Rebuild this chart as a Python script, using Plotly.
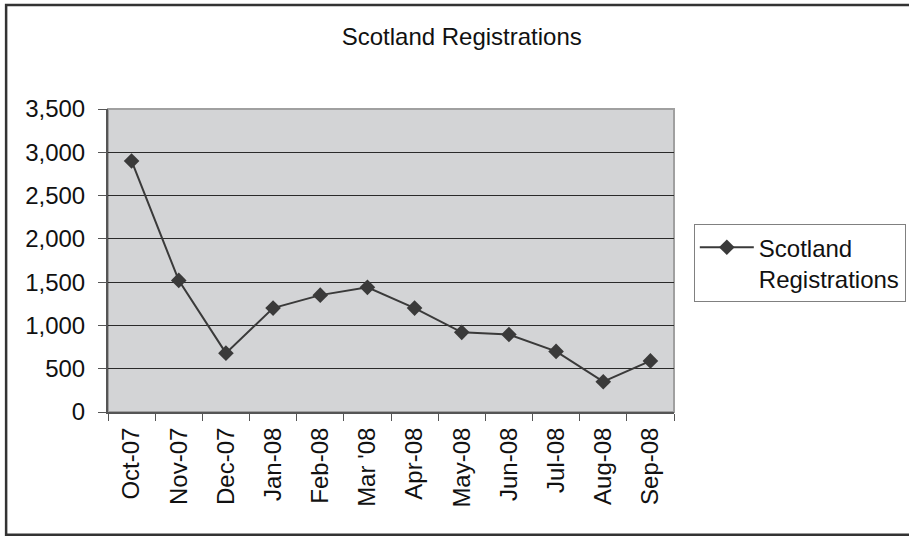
import plotly.graph_objects as go

# Monthly registrations, Scotland, Oct 2007 – Sep 2008
months = ["Oct-07", "Nov-07", "Dec-07", "Jan-08", "Feb-08", "Mar '08",
          "Apr-08", "May-08", "Jun-08", "Jul-08", "Aug-08", "Sep-08"]
registrations = [2900, 1520, 680, 1200, 1350, 1440, 1200, 920, 895, 700, 350, 590]
y_ticks = [0, 500, 1000, 1500, 2000, 2500, 3000, 3500]
y_tick_text = ["0", "500", "1,000", "1,500", "2,000", "2,500", "3,000", "3,500"]

FONT = "Liberation Sans, Arial, sans-serif"
MARK = "#3a3a3a"

fig = go.Figure()
fig.add_trace(go.Scatter(
    x=months,
    y=registrations,
    mode="lines+markers",
    name="Scotland<br>Registrations",
    line=dict(color=MARK, width=2),
    marker=dict(symbol="diamond", size=12, color=MARK),
))

fig.update_layout(
    width=909,
    height=536,
    margin=dict(l=108, r=235, t=109, b=124, autoexpand=False),
    paper_bgcolor="white",
    plot_bgcolor="#d3d4d6",
    font=dict(family=FONT, color="#111111", size=24),
    title=dict(
        text="Scotland Registrations",
        x=0.508, xref="container", xanchor="center",
        y=0.931, yref="container", yanchor="middle",
        font=dict(family=FONT, size=24, color="#111111"),
    ),
    showlegend=True,
    legend=dict(
        x=1.035, xanchor="left",
        y=0.62, yanchor="top",
        bordercolor="#808080", borderwidth=1,
        bgcolor="white",
        itemwidth=54,
        font=dict(family=FONT, size=24, color="#111111"),
        valign="top",
    ),
    shapes=[
        # outer chart frame
        dict(type="rect", xref="paper", yref="paper",
             x0=-0.18, x1=1.6, y0=-0.405, y1=1.343,
             line=dict(color="#333333", width=2.5), layer="below"),
        # plot area border (top / right)
        dict(type="rect", xref="paper", yref="paper",
             x0=0, x1=1, y0=0, y1=1,
             line=dict(color="#a0a0a0", width=2), layer="below"),
    ],
)

fig.update_xaxes(
    type="category",
    range=[-0.5, len(months) - 0.5],
    tickson="boundaries",
    ticks="outside", ticklen=7, tickcolor="#555555", tickwidth=1,
    tickangle=-90,
    showline=True, linecolor="#555555", linewidth=2,
    showgrid=False,
    ticklabelstandoff=4,
    tickfont=dict(family=FONT, size=24, color="#111111"),
)
fig.update_yaxes(
    range=[0, 3500],
    tickvals=y_ticks, ticktext=y_tick_text,
    ticks="outside", ticklen=8, tickcolor="#555555", tickwidth=1,
    showline=True, linecolor="#555555", linewidth=2,
    showgrid=True, gridcolor="#2a2a2a", gridwidth=1,
    zeroline=False,
    ticklabelstandoff=8,
    tickfont=dict(family=FONT, size=24, color="#111111"),
)

fig.write_html("out.html")
